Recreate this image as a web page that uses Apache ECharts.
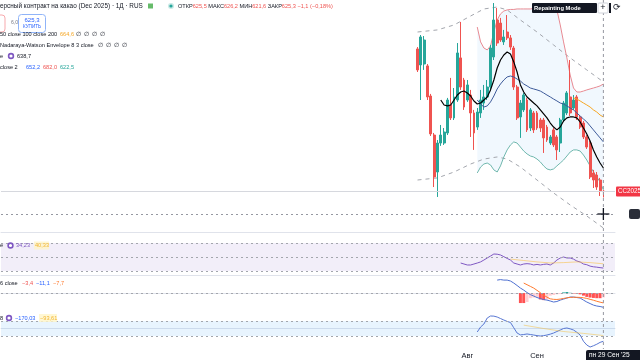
<!DOCTYPE html>
<html><head><meta charset="utf-8">
<script src="https://cdn.jsdelivr.net/npm/echarts@6/dist/echarts.min.js"></script>
<style>html,body{margin:0;padding:0;background:#fff}#c{width:640px;height:360px}</style>
</head><body><div id="c"></div>
<script>
// ---- data ----
const dates = ['2025-07-11','2025-07-14','2025-07-15','2025-07-16','2025-07-17','2025-07-18','2025-07-21','2025-07-22','2025-07-23','2025-07-24','2025-07-25','2025-07-28','2025-07-29','2025-07-30','2025-07-31',
'2025-08-01','2025-08-04','2025-08-05','2025-08-06','2025-08-07','2025-08-08','2025-08-11','2025-08-12','2025-08-13','2025-08-14','2025-08-15','2025-08-18','2025-08-19','2025-08-20','2025-08-21','2025-08-22','2025-08-25','2025-08-26','2025-08-27','2025-08-28','2025-08-29',
'2025-09-01','2025-09-02','2025-09-03','2025-09-04','2025-09-05','2025-09-08','2025-09-09','2025-09-10','2025-09-11','2025-09-12','2025-09-15','2025-09-16','2025-09-17','2025-09-18','2025-09-19','2025-09-22','2025-09-23','2025-09-24','2025-09-25','2025-09-26','2025-09-29'];
const monthLabels = {'2025-08-01':'Авг','2025-09-01':'Сен'};

const opens  = [714.4,704.4,705,703.8,685,660.6,637.5,655.6,655.6,661.9,679.4,671.3,682.5,708.8,695,682.5,685.6,674.4,665.6,674.4,680.6,684.4,690.6,709.4,732.5,730.6,718.8,725,721.3,715,690.6,671.9,676.3,682.5,665,674.4,674.4,670,670,665.6,655.6,663.8,659.4,655.6,670,674.4,684.4,677.5,684.4,671.9,668.1,659.4,655.6,636.9,635.6,632.5,625.5];
const closes = [701.3,721.9,720,684.4,661.3,634.4,655.6,660.6,662.5,682.5,671.3,684.4,711.9,690.6,678.1,691.9,674.4,661.9,675,682.5,684.4,690.6,715,732.5,718.1,720,721.9,721.3,715.6,690.6,671.3,680.6,685.6,663.8,676.3,663.8,665,665,658.8,657.5,659.4,654.4,651.3,670,680.6,686.9,674.4,682.5,671.9,665.6,659.4,653.1,634.4,632.5,628.1,625.8,625.3];
const lows   = [700,682.5,701.3,682.5,660,628.1,621.9,653.8,654.4,660.6,670,670,681.3,688.8,676.3,681.3,659.4,651.3,663.8,671.3,676.3,682.5,688.8,707.5,716.3,718.8,716.9,720,713.8,688.8,670,658.8,675,662.5,663.1,661.9,663.8,662.5,649.4,656.3,654.4,653.1,645,650,668.8,673.1,672.5,676.3,670,664.4,658.1,651.9,633.1,627.5,626.3,622.5,621.6];
const highs  = [715.6,723.1,722.5,705,686.3,661.9,657.5,666.9,665,683.8,696.3,690,718.1,731.3,696.3,695,688.8,676.3,677.5,688.8,691.9,695,716.9,743.1,740,733.8,726.3,735.6,723.1,716.3,691.9,682.5,686.9,683.8,677.5,675.6,675.6,671.3,671.3,666.9,660.6,665,660.6,671.3,681.9,688.1,707.5,685.6,685.6,673.1,669.4,660.6,656.9,638.8,637.5,633.8,626.2];

// fast MA (black), from bar 7
const maFastStart = 7;
const maFast = [682.5,679.4,678.8,679.4,682.5,685.6,687.5,688.1,686.9,685,681.9,680,680.6,682.5,684.4,688.8,695,702.5,707.5,710.6,712.5,711.3,706.3,700,691.9,687.5,684.4,682.5,680.6,678.8,676.3,673.8,671.3,668.1,665.6,663.8,665.6,669.4,671.3,671.9,671.9,671.3,668.8,665,661.3,656.9,651.3,646.9,643.1,640];
// Bollinger, from bar 18
const bbStart = 18;
const bbBasis = [682.5,680,678.1,678.8,681.3,685,689.4,692.5,695,696.9,697.5,696.9,695.6,694.4,692.5,691.3,690,689.4,688.8,688.1,686.9,685.6,684.4,683.1,681.9,680.6,680,678.8,677.5,676.3,674.4,672.5,670.6,668.8,666.3,663.8,661.3,658.8,656.3];
const bbUpper = [728.1,718.8,715,713.8,716.3,725,732.5,736.3,738.1,738.8,739.1,739.1,739.4,739.4,739.4,739.4,739.4,739.7,739.7,739.7,739.7,740,740,740,738.8,729.4,718.8,708.8,698.1,690,687.5,687.5,688.1,688.8,689.4,690,690.6,691.3,692.5];
const bbLower = [636.9,640.6,642.5,643.1,641.9,638.8,637.5,641.3,646.9,651.3,654.4,656.3,655.6,653.1,650.6,648.8,647.5,646.9,645.6,643.8,641.3,639.4,638.8,639.4,641.3,643.1,645,647.5,650,651.3,651.3,650.6,648.1,645,641.3,637.5,634.4,631.3,626.3];
// slow MA (orange), from bar 47
const maSlowStart = 47;
const maSlow = [683.8,683.1,681.9,680.6,679.4,678.1,676.3,675,673.1,671.9];
// Nadaraya-Watson envelope (read points)
const nwBars  = [0,6,11,16,20,24,27,31,36,41,46,51,56];
const nwUpper = [725,726.3,729.4,735,739.4,740.6,738.8,732.5,725,716.9,708.8,701.3,693.8];
const nwLower = [632.5,633.8,637.5,642.5,645.6,646.9,645.6,640.6,632.5,624.4,616.9,610,602.5];
// RSI from bar 13
const rsiStart = 13;
const rsi = [41.4,40,38.6,38.6,40,41.4,43,45.7,48.6,51.4,54.3,54,52.9,50.5,48,45.7,41.4,40,38.6,40,40.5,40,38.6,39.5,38.6,39.5,40,38.6,41.4,45.7,48.6,50,48.6,48.6,47,44.3,42.9,40,39,37,36,35.5,34.8,34.23];
const rsiMaBars = [28,32,36,40,44,48,52,56];
const rsiMa = [47,45,43,41.5,42,43,42,40.33];
// MACD
const macdStart = 24;
const macd = [10.1,10.5,10.1,10.1,9.4,7.8,5.9,3.9,2.3,0.4,-1.2,-2.3,-3.5,-4.3,-5.1,-5.5,-6.2,-7,-6.6,-5.5,-4.7,-3.9,-3.1,-3.1,-3.5,-3.9,-5.5,-7,-8.2,-9.4,-10.1,-10.5,-11.1];
const signalStart = 32;
const signal = [7.8,6.5,5.2,3.9,2.1,0.3,-1.6,-3.2,-4.5,-4.9,-5,-4.7,-4.2,-3.7,-3.4,-3.3,-3.3,-3.4,-3.7,-4.2,-4.9,-5.6,-6.4,-7.1,-7.7];
const histStart = 31;
const hist = [-7.8,-7.8,-7,-4,-3.5,-3,-5,-5.5,-5,-2,-1.5,-1,-0.8,0.5,0.8,0.5,-0.3,-0.5,-1,-2,-3,-3.5,-3.8,-4,-4,-3.4];
// CCI
const cciStart = 18;
const cci = [-46.7,20,60,140,166.7,165,153,133,113,95,80,10,-60,-85,-80,-73,-80,-87,-95,-100,-95,-87,-75,-60,-40,-20,0,7,-5,-20,-50,-87,-170,-220,-247,-230,-210,-185,-170.03];
const cciMaBars = [32,38,44,50,56];
const cciMa = [45,0,-40,-65,-93.61];

// ---- layout helpers ----
const PAD_LEFT = 125, PAD_RIGHT = 3, N = dates.length;
const cats = [...Array(PAD_LEFT)].map((_,i)=>'p'+i).concat(dates, [...Array(PAD_RIGHT)].map((_,i)=>'q'+i));
const fromStart = (start, vals) => vals.map((v,i)=>[PAD_LEFT+start+i, v]);
const sparse = (bars, vals) => bars.map((b,i)=>[PAD_LEFT+b, vals[i]]);
const candles = dates.map((d,i)=>[PAD_LEFT+i, opens[i], closes[i], lows[i], highs[i]]);
const bbDiff = bbUpper.map((u,i)=>u - bbLower[i]);
const lastCat = PAD_LEFT + N - 1;

const FONT = '"Liberation Sans", Arial, sans-serif';
const GL = 1, GW = 614;
const grids = [
  {left:GL, width:GW, top:0, height:232},
  {left:GL, width:GW, top:233, height:42},
  {left:GL, width:GW, top:276, height:35},
  {left:GL, width:GW, top:313, height:35}
];
const xAxes = grids.map((g,i)=>({
  type:'category', gridIndex:i, data:cats, boundaryGap:true,
  axisLine:{show:true, lineStyle:{color:'#e0e3eb', width:1}},
  axisTick:{show:false}, splitLine:{show:false},
  axisLabel: i===3 ? {show:true, interval:(idx,v)=>monthLabels[v]!==undefined, formatter:v=>monthLabels[v]||'', color:'#131722', fontSize:7.5, fontFamily:FONT, margin:4} : {show:false}
}));
const yAxes = [
  {gridIndex:0, min:600, max:745},
  {gridIndex:1, min:24.3, max:84.3},
  {gridIndex:2, min:-14, max:13.3},
  {gridIndex:3, min:-260, max:206.7}
].map(a=>Object.assign(a,{type:'value', show:false, splitLine:{show:false}}));

const lineS = (name, data, color, xi, extra) => Object.assign({
  name, type:'line', xAxisIndex:xi, yAxisIndex:xi, data, symbol:'none', showSymbol:false,
  lineStyle:{color, width:1}, itemStyle:{color}, connectNulls:true, silent:true, animation:false, z:3
}, extra||{});

const histColor = (p) => {
  const i = p.dataIndex, v = hist[i], pv = i>0 ? hist[i-1] : 0;
  if (v >= 0) return v >= pv ? '#26a69a' : '#b2dfdb';
  return v <= pv ? '#ff5252' : '#ffcdd2';
};

const option = {
  animation:false,
  grid:grids, xAxis:xAxes, yAxis:yAxes,
  series:[
    {name:'bbBase', type:'line', xAxisIndex:0, yAxisIndex:0, stack:'bb', data:fromStart(bbStart,bbLower), symbol:'none', lineStyle:{opacity:0}, silent:true, z:1},
    {name:'bbFill', type:'line', xAxisIndex:0, yAxisIndex:0, stack:'bb', data:fromStart(bbStart,bbDiff), symbol:'none', lineStyle:{opacity:0}, areaStyle:{color:'rgba(33,150,243,0.09)'}, silent:true, z:1},
    lineS('nwUpper', sparse(nwBars,nwUpper), '#a3a6ad', 0, {lineStyle:{color:'#a3a6ad', width:1, type:[4,4]}}),
    lineS('nwLower', sparse(nwBars,nwLower), '#a3a6ad', 0, {lineStyle:{color:'#a3a6ad', width:1, type:[4,4]}}),
    lineS('bbUpper', fromStart(bbStart,bbUpper), '#e88a92', 0),
    lineS('bbLower', fromStart(bbStart,bbLower), '#6fb7ad', 0),
    {name:'price', type:'candlestick', xAxisIndex:0, yAxisIndex:0, data:candles, encode:{x:0, y:[1,2,3,4]}, barWidth:'72%',
     itemStyle:{color:'#26a69a', color0:'#ef5350', borderColor:'#26a69a', borderColor0:'#ef5350', borderWidth:1}, z:4,
     markLine:{silent:true, symbol:'none', label:{show:false}, data:[
       {yAxis:625.3, lineStyle:{color:'#d6d8de', width:1, type:'solid'}},
       {yAxis:611.25, lineStyle:{color:'#9598a1', width:1, type:[2,3]}}
     ]}},
    lineS('bbBasis', fromStart(bbStart,bbBasis), '#3d5a99', 0, {z:5}),
    lineS('maSlow', fromStart(maSlowStart,maSlow), '#f5a623', 0, {z:5}),
    lineS('maFast', fromStart(maFastStart,maFast), '#000000', 0, {lineStyle:{color:'#000', width:1.2}, z:6}),
    lineS('rsi', fromStart(rsiStart,rsi), '#7e57c2', 1, {
      markArea:{silent:true, itemStyle:{color:'rgba(126,87,194,0.10)'}, data:[[{yAxis:70},{yAxis:30}]]},
      markLine:{silent:true, symbol:'none', label:{show:false}, lineStyle:{color:'#a3a6ad', width:1, type:[2,3]}, data:[{yAxis:70},{yAxis:50},{yAxis:30}]}
    }),
    lineS('rsiMa', sparse(rsiMaBars,rsiMa), 'rgba(247,190,60,0.55)', 1),
    {name:'hist', type:'bar', xAxisIndex:2, yAxisIndex:2, data:fromStart(histStart,hist), barWidth:'90%', itemStyle:{color:histColor}, silent:true,
     markLine:{silent:true, symbol:'none', label:{show:false}, lineStyle:{color:'#a3a6ad', width:1, type:[2,3]}, data:[{yAxis:0}]}},
    lineS('macd', fromStart(macdStart,macd), '#4d6fd0', 2),
    lineS('signal', fromStart(signalStart,signal), '#ff7a2f', 2),
    lineS('cci', fromStart(cciStart,cci), '#5877d2', 3, {
      markArea:{silent:true, itemStyle:{color:'rgba(33,150,243,0.10)'}, data:[[{yAxis:100},{yAxis:-100}]]},
      markLine:{silent:true, symbol:'none', label:{show:false}, lineStyle:{color:'#a3a6ad', width:1, type:[2,3]}, data:[{yAxis:100},{yAxis:-100}]}
    }),
    lineS('cciMa', sparse(cciMaBars,cciMa), 'rgba(247,190,60,0.5)', 3)
  ]
};

const chart = echarts.init(document.getElementById('c'), null, {renderer:'canvas'});
chart.setOption(option);

// ---- overlay texts / decorations ----
const cx = chart.convertToPixel({xAxisIndex:0, yAxisIndex:0}, [lastCat, 611.25]);
const pl = chart.convertToPixel({xAxisIndex:0, yAxisIndex:0}, [lastCat, 625.3]);
const LS = 5.6;
const T = (x,y,text,fill,size,align) => ({type:'text', silent:true, z:100, style:{x, y, text, fill:fill||'#131722', font:(size||LS)+'px '+FONT, textVerticalAlign:'middle', textAlign:align||'left'}});
const els = [
  {type:'line', silent:true, z:50, shape:{x1:cx[0], y1:0, x2:cx[0], y2:349}, style:{stroke:'#9598a1', lineWidth:1, lineDash:[3,3]}},
  {type:'line', silent:true, z:60, shape:{x1:cx[0]-6, y1:cx[1], x2:cx[0]+6, y2:cx[1]}, style:{stroke:'#131722', lineWidth:1.3}},
  {type:'line', silent:true, z:60, shape:{x1:cx[0], y1:cx[1]-6, x2:cx[0], y2:cx[1]+6}, style:{stroke:'#131722', lineWidth:1.3}},
  {type:'rect', silent:true, z:60, shape:{x:616, y:pl[1]-5, width:26, height:10, r:1}, style:{fill:'#f23645'}},
  T(618, pl[1], 'CC2025', '#ffffff', 6.3),
  {type:'rect', silent:true, z:60, shape:{x:629, y:cx[1]-5, width:11, height:10, r:2}, style:{fill:'#2a2e39'}},
  {type:'rect', silent:true, z:60, shape:{x:586, y:350, width:56, height:12, r:2}, style:{fill:'#131722'}},
  T(589, 355.5, "пн 29 Сен '25", '#ffffff', 6.6),
  {type:'rect', silent:true, z:60, shape:{x:532, y:3, width:65, height:10, r:1}, style:{fill:'#131722'}},
  {type:'text', silent:true, z:100, style:{x:534, y:8, text:'Repainting Mode', fill:'#fff', font:'bold 5.8px '+FONT, textVerticalAlign:'middle'}},
  {type:'rect', silent:true, z:60, shape:{x:598, y:3, width:10, height:10, r:1}, style:{fill:'#fff', stroke:'#d1d4dc'}},
  T(603, 8, '+', '#131722', 9, 'center'),
  {type:'rect', silent:true, z:60, shape:{x:609, y:3, width:2, height:10}, style:{fill:'#131722'}},
  T(613, 8, '⟳', '#131722', 9),
  // legend row 1
  T(0, 6, 'ерсный контракт на какао (Dec 2025) · 1Д · RUS', '#131722', 6.4),
  {type:'rect', silent:true, z:100, shape:{x:148, y:3.5, width:5, height:5}, style:{fill:'#66bb6a'}},
  {type:'circle', silent:true, z:100, shape:{cx:171, cy:6, r:3}, style:{fill:'rgba(38,166,154,0.25)'}},
  {type:'circle', silent:true, z:101, shape:{cx:171, cy:6, r:1.6}, style:{fill:'#26a69a'}},
  {type:'text', silent:true, z:100, style:{x:178, y:6, textVerticalAlign:'middle', font:LS+'px '+FONT,
    text:'{k|ОТКР}{v|625,5} {k|МАКС}{v|626,2} {k|МИН}{v|621,6} {k|ЗАКР}{v|625,3} {v|−1,1 (−0,18%)}',
    rich:{k:{fill:'#131722', font:LS+'px '+FONT}, v:{fill:'#ef5350', font:LS+'px '+FONT}}}},
  // row 2 buttons
  {type:'rect', silent:true, z:100, shape:{x:-20, y:15, width:25, height:17, r:3}, style:{fill:'#fff', stroke:'#f7a9ad'}},
  T(11, 23, '6,0', '#787b86', 5.2),
  {type:'rect', silent:true, z:100, shape:{x:18.5, y:14.5, width:27, height:18, r:3}, style:{fill:'#fff', stroke:'#90b4f8'}},
  T(32, 20, '625,3', '#2962ff', 6, 'center'),
  T(32, 27, 'КУПИТЬ', '#2962ff', 4.6, 'center'),
  // row 3
  T(0, 34, '50 close 100 close 200'),
  T(60, 34, '664,6', '#f5a623'),
  T(76, 34, '∅  ∅  ∅  ∅'),
  // row 4
  T(0, 45, 'Nadaraya-Watson Envelope 8 3 close'),
  T(98, 45, '∅  ∅  ∅  ∅'),
  // row 5
  T(0, 56, 'e'),
  {type:'circle', silent:true, z:100, shape:{cx:11, cy:56, r:2.4}, style:{fill:'#fff', stroke:'#7e57c2', lineWidth:1.6}},
  T(17, 56, '638,7'),
  // row 6
  T(0, 67, 'close 2'),
  T(26, 67, '652,2', '#2962ff'),
  T(43, 67, '682,0', '#ef5350'),
  T(60, 67, '622,5', '#26a69a'),
  // RSI legend
  T(0, 245.5, 'e'),
  {type:'circle', silent:true, z:100, shape:{cx:10.5, cy:245.5, r:2.4}, style:{fill:'#fff', stroke:'#7e57c2', lineWidth:1.6}},
  T(16, 245.5, '34,23', '#7e57c2'),
  {type:'rect', silent:true, z:99, shape:{x:34, y:241.5, width:15, height:8}, style:{fill:'rgba(255,245,200,0.8)'}},
  T(35, 245.5, '40,33', '#f2b632'),
  // MACD legend
  T(0, 283, '6 close'),
  T(22, 283, '−3,4', '#ef5350'),
  T(36, 283, '−11,1', '#2962ff'),
  T(53, 283, '−7,7', '#ff7a2f'),
  // CCI legend
  T(0, 318, '8'),
  {type:'circle', silent:true, z:100, shape:{cx:9, cy:318, r:2.4}, style:{fill:'#fff', stroke:'#7e57c2', lineWidth:1.6}},
  T(15, 318, '−170,03', '#2962ff'),
  {type:'rect', silent:true, z:99, shape:{x:39, y:314, width:18, height:8}, style:{fill:'rgba(255,245,200,0.8)'}},
  T(40, 318, '−93,61', '#f2b632')
];
chart.setOption({graphic:els});
</script>
</body></html>
